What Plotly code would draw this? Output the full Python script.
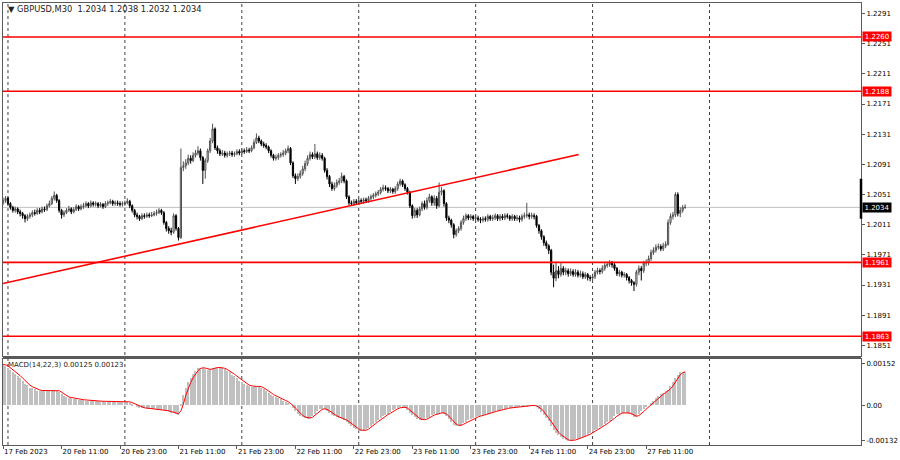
import plotly.graph_objects as go
from plotly.subplots import make_subplots

# ---------------- data (GBPUSD M30, one entry per bar) ----------------
opens = [1.2040,
1.2043,1.2046,1.2039,1.2034,1.2030,1.2032,1.2028,1.2026,1.2023,1.2019,
1.2022,1.2024,1.2027,1.2026,1.2030,1.2028,1.2032,1.2031,1.2036,1.2039,
1.2046,1.2050,1.2043,1.2030,1.2024,1.2027,1.2030,1.2032,1.2028,1.2031,
1.2035,1.2032,1.2035,1.2036,1.2039,1.2036,1.2040,1.2038,1.2039,1.2036,
1.2038,1.2035,1.2039,1.2040,1.2042,1.2039,1.2040,1.2039,1.2038,1.2039,
1.2040,1.2042,1.2036,1.2030,1.2024,1.2022,1.2019,1.2023,1.2022,1.2024,
1.2023,1.2024,1.2026,1.2027,1.2030,1.2027,1.2014,1.2006,1.2003,1.2001,
1.2023,1.2006,1.1994,1.2087,1.2089,1.2093,1.2099,1.2096,1.2103,1.2106,
1.2109,1.2100,1.2083,1.2096,1.2109,1.2122,1.2138,1.2113,1.2109,1.2105,
1.2106,1.2103,1.2105,1.2106,1.2104,1.2105,1.2108,1.2106,1.2109,1.2108,
1.2110,1.2109,1.2113,1.2120,1.2126,1.2122,1.2118,1.2116,1.2114,1.2109,
1.2103,1.2099,1.2100,1.2103,1.2104,1.2106,1.2109,1.2112,1.2093,1.2076,
1.2072,1.2075,1.2079,1.2085,1.2092,1.2099,1.2104,1.2101,1.2105,1.2100,
1.2103,1.2099,1.2083,1.2075,1.2065,1.2059,1.2063,1.2067,1.2069,1.2075,
1.2069,1.2048,1.2040,1.2039,1.2042,1.2040,1.2043,1.2042,1.2044,1.2043,
1.2046,1.2048,1.2050,1.2052,1.2054,1.2058,1.2060,1.2059,1.2056,1.2058,
1.2055,1.2059,1.2065,1.2069,1.2064,1.2059,1.2054,1.2036,1.2023,1.2030,
1.2024,1.2032,1.2039,1.2034,1.2043,1.2048,1.2040,1.2046,1.2036,1.2054,
1.2056,1.2039,1.2020,1.2017,1.2011,1.1998,1.2003,1.2006,1.2014,1.2019,
1.2023,1.2020,1.2022,1.2019,1.2020,1.2018,1.2017,1.2019,1.2018,1.2022,
1.2019,1.2020,1.2023,1.2019,1.2022,1.2020,1.2023,1.2022,1.2019,1.2022,
1.2019,1.2020,1.2018,1.2022,1.2023,1.2024,1.2022,1.2023,1.2022,1.2010,
1.2003,1.1995,1.1987,1.1983,1.1977,1.1948,1.1940,1.1950,1.1945,1.1953,
1.1948,1.1950,1.1946,1.1949,1.1945,1.1948,1.1944,1.1946,1.1942,1.1945,
1.1941,1.1940,1.1942,1.1948,1.1950,1.1949,1.1953,1.1957,1.1958,1.1960,
1.1958,1.1953,1.1946,1.1948,1.1944,1.1945,1.1941,1.1937,1.1934,1.1932,
1.1948,1.1953,1.1950,1.1960,1.1961,1.1966,1.1974,1.1977,1.1981,1.1982,
1.1979,1.1983,1.1985,1.2014,1.2022,1.2024,1.2051,1.2026,1.2030,1.2034]

highs = [
1.2047,1.2049,1.2048,1.2041,1.2036,1.2035,1.2034,1.2031,1.2028,1.2025,
1.2025,1.2027,1.2030,1.2031,1.2033,1.2033,1.2035,1.2035,1.2039,1.2043,
1.2049,1.2055,1.2052,1.2045,1.2032,1.2030,1.2033,1.2036,1.2034,1.2034,
1.2038,1.2037,1.2038,1.2040,1.2042,1.2041,1.2043,1.2042,1.2042,1.2041,
1.2041,1.2040,1.2042,1.2043,1.2045,1.2044,1.2043,1.2043,1.2042,1.2042,
1.2043,1.2046,1.2044,1.2038,1.2032,1.2027,1.2024,1.2026,1.2026,1.2027,
1.2027,1.2028,1.2029,1.2031,1.2033,1.2032,1.2029,1.2016,1.2009,1.2007,
1.2026,1.2025,1.2008,1.2112,1.2095,1.2098,1.2104,1.2103,1.2107,1.2110,
1.2115,1.2112,1.2102,1.2099,1.2112,1.2126,1.2145,1.2140,1.2116,1.2112,
1.2110,1.2109,1.2108,1.2109,1.2109,1.2108,1.2111,1.2111,1.2112,1.2112,
1.2114,1.2113,1.2116,1.2124,1.2132,1.2129,1.2124,1.2121,1.2119,1.2116,
1.2111,1.2105,1.2104,1.2106,1.2107,1.2110,1.2112,1.2116,1.2114,1.2095,
1.2079,1.2079,1.2083,1.2089,1.2096,1.2103,1.2108,1.2107,1.2118,1.2108,
1.2107,1.2106,1.2101,1.2086,1.2077,1.2068,1.2067,1.2071,1.2073,1.2080,
1.2077,1.2071,1.2050,1.2043,1.2045,1.2045,1.2046,1.2046,1.2047,1.2047,
1.2049,1.2051,1.2053,1.2055,1.2057,1.2061,1.2064,1.2063,1.2061,1.2061,
1.2060,1.2062,1.2068,1.2072,1.2071,1.2066,1.2061,1.2056,1.2038,1.2033,
1.2033,1.2035,1.2042,1.2043,1.2047,1.2052,1.2050,1.2050,1.2049,1.2067,
1.2061,1.2058,1.2041,1.2023,1.2019,1.2013,1.2006,1.2009,1.2017,1.2023,
1.2026,1.2025,1.2025,1.2024,1.2024,1.2023,1.2021,1.2022,1.2022,1.2025,
1.2024,1.2024,1.2026,1.2025,1.2025,1.2025,1.2026,1.2026,1.2024,1.2025,
1.2024,1.2024,1.2023,1.2025,1.2027,1.2040,1.2027,1.2027,1.2026,1.2024,
1.2012,1.2005,1.1997,1.1990,1.1985,1.1979,1.1958,1.1962,1.1956,1.1960,
1.1956,1.1954,1.1953,1.1953,1.1952,1.1952,1.1951,1.1950,1.1949,1.1948,
1.1947,1.1944,1.1946,1.1951,1.1954,1.1953,1.1957,1.1960,1.1962,1.1964,
1.1963,1.1960,1.1955,1.1951,1.1950,1.1948,1.1947,1.1943,1.1939,1.1936,
1.1951,1.1957,1.1956,1.1963,1.1965,1.1970,1.1978,1.1981,1.1985,1.1986,
1.1985,1.1987,1.1989,1.2018,1.2026,1.2028,1.2054,1.2054,1.2034,1.2037,
1.2038]

lows = [
1.2037,1.2040,1.2036,1.2031,1.2027,1.2027,1.2025,1.2022,1.2019,1.2014,
1.2016,1.2019,1.2021,1.2023,1.2024,1.2025,1.2026,1.2028,1.2029,1.2034,
1.2037,1.2043,1.2040,1.2027,1.2019,1.2021,1.2025,1.2028,1.2025,1.2026,
1.2029,1.2029,1.2030,1.2032,1.2034,1.2033,1.2034,1.2035,1.2035,1.2033,
1.2034,1.2032,1.2033,1.2036,1.2038,1.2036,1.2036,1.2036,1.2035,1.2035,
1.2036,1.2038,1.2033,1.2027,1.2021,1.2018,1.2016,1.2017,1.2019,1.2020,
1.2020,1.2021,1.2022,1.2023,1.2025,1.2024,1.2011,1.2002,1.1999,1.1997,
1.1999,1.2003,1.1990,1.1992,1.2082,1.2085,1.2090,1.2092,1.2094,1.2100,
1.2103,1.2096,1.2065,1.2072,1.2093,1.2106,1.2119,1.2110,1.2105,1.2102,
1.2102,1.2100,1.2100,1.2102,1.2101,1.2101,1.2103,1.2103,1.2104,1.2105,
1.2106,1.2106,1.2107,1.2111,1.2118,1.2119,1.2115,1.2113,1.2111,1.2106,
1.2100,1.2096,1.2096,1.2097,1.2100,1.2101,1.2103,1.2106,1.2090,1.2073,
1.2065,1.2069,1.2072,1.2076,1.2082,1.2089,1.2096,1.2098,1.2098,1.2097,
1.2097,1.2096,1.2080,1.2071,1.2061,1.2056,1.2056,1.2060,1.2064,1.2066,
1.2066,1.2045,1.2037,1.2036,1.2036,1.2037,1.2037,1.2039,1.2039,1.2040,
1.2040,1.2043,1.2045,1.2047,1.2049,1.2051,1.2055,1.2056,1.2053,1.2053,
1.2052,1.2052,1.2056,1.2062,1.2061,1.2056,1.2051,1.2033,1.2019,1.2020,
1.2020,1.2022,1.2029,1.2031,1.2031,1.2040,1.2036,1.2036,1.2032,1.2034,
1.2050,1.2035,1.2016,1.2013,1.2007,1.1993,1.1995,1.2000,1.2003,1.2011,
1.2016,1.2017,1.2017,1.2016,1.2016,1.2015,1.2013,1.2014,1.2015,1.2015,
1.2016,1.2016,1.2017,1.2016,1.2016,1.2017,1.2017,1.2019,1.2016,1.2016,
1.2016,1.2016,1.2014,1.2015,1.2019,1.2020,1.2018,1.2019,1.2018,1.2007,
1.1999,1.1991,1.1983,1.1979,1.1972,1.1944,1.1928,1.1936,1.1940,1.1942,
1.1944,1.1944,1.1942,1.1943,1.1942,1.1942,1.1941,1.1941,1.1939,1.1939,
1.1937,1.1936,1.1937,1.1939,1.1945,1.1945,1.1946,1.1950,1.1954,1.1955,
1.1954,1.1950,1.1943,1.1942,1.1941,1.1941,1.1937,1.1933,1.1930,1.1923,
1.1929,1.1944,1.1937,1.1947,1.1956,1.1957,1.1963,1.1971,1.1974,1.1978,
1.1976,1.1976,1.1980,1.1983,1.2011,1.2018,1.2021,1.2022,1.2021,1.2027,
1.2032]

closes = [
1.2043,1.2046,1.2039,1.2034,1.2030,1.2032,1.2028,1.2026,1.2023,1.2019,
1.2022,1.2024,1.2027,1.2026,1.2030,1.2028,1.2032,1.2031,1.2036,1.2039,
1.2046,1.2050,1.2043,1.2030,1.2024,1.2027,1.2030,1.2032,1.2028,1.2031,
1.2035,1.2032,1.2035,1.2036,1.2039,1.2036,1.2040,1.2038,1.2039,1.2036,
1.2038,1.2035,1.2039,1.2040,1.2042,1.2039,1.2040,1.2039,1.2038,1.2039,
1.2040,1.2042,1.2036,1.2030,1.2024,1.2022,1.2019,1.2023,1.2022,1.2024,
1.2023,1.2024,1.2026,1.2027,1.2030,1.2027,1.2014,1.2006,1.2003,1.2001,
1.2023,1.2006,1.1994,1.2087,1.2089,1.2093,1.2099,1.2096,1.2103,1.2106,
1.2109,1.2100,1.2083,1.2096,1.2109,1.2122,1.2138,1.2113,1.2109,1.2105,
1.2106,1.2103,1.2105,1.2106,1.2104,1.2105,1.2108,1.2106,1.2109,1.2108,
1.2110,1.2109,1.2113,1.2120,1.2126,1.2122,1.2118,1.2116,1.2114,1.2109,
1.2103,1.2099,1.2100,1.2103,1.2104,1.2106,1.2109,1.2112,1.2093,1.2076,
1.2072,1.2075,1.2079,1.2085,1.2092,1.2099,1.2104,1.2101,1.2105,1.2100,
1.2103,1.2099,1.2083,1.2075,1.2065,1.2059,1.2063,1.2067,1.2069,1.2075,
1.2069,1.2048,1.2040,1.2039,1.2042,1.2040,1.2043,1.2042,1.2044,1.2043,
1.2046,1.2048,1.2050,1.2052,1.2054,1.2058,1.2060,1.2059,1.2056,1.2058,
1.2055,1.2059,1.2065,1.2069,1.2064,1.2059,1.2054,1.2036,1.2023,1.2030,
1.2024,1.2032,1.2039,1.2034,1.2043,1.2048,1.2040,1.2046,1.2036,1.2054,
1.2056,1.2039,1.2020,1.2017,1.2011,1.1998,1.2003,1.2006,1.2014,1.2019,
1.2023,1.2020,1.2022,1.2019,1.2020,1.2018,1.2017,1.2019,1.2018,1.2022,
1.2019,1.2020,1.2023,1.2019,1.2022,1.2020,1.2023,1.2022,1.2019,1.2022,
1.2019,1.2020,1.2018,1.2022,1.2023,1.2024,1.2022,1.2023,1.2022,1.2010,
1.2003,1.1995,1.1987,1.1983,1.1977,1.1948,1.1940,1.1950,1.1945,1.1953,
1.1948,1.1950,1.1946,1.1949,1.1945,1.1948,1.1944,1.1946,1.1942,1.1945,
1.1941,1.1940,1.1942,1.1948,1.1950,1.1949,1.1953,1.1957,1.1958,1.1960,
1.1958,1.1953,1.1946,1.1948,1.1944,1.1945,1.1941,1.1937,1.1934,1.1932,
1.1948,1.1953,1.1950,1.1960,1.1961,1.1966,1.1974,1.1977,1.1981,1.1982,
1.1979,1.1983,1.1985,1.2014,1.2022,1.2024,1.2051,1.2026,1.2030,1.2034,
1.2034]

macd_hist = [
152e-5,146e-5,137e-5,131e-5,125e-5,118e-5,109e-5,100e-5,90e-5,81e-5,
74e-5,66e-5,63e-5,59e-5,55e-5,54e-5,54e-5,54e-5,54e-5,53e-5,
54e-5,55e-5,53e-5,50e-5,41e-5,33e-5,30e-5,28e-5,26e-5,24e-5,
22e-5,21e-5,20e-5,19e-5,18e-5,17e-5,16e-5,15e-5,15e-5,15e-5,
14e-5,14e-5,14e-5,13e-5,13e-5,13e-5,13e-5,12e-5,12e-5,12e-5,
13e-5,12e-5,10e-5,6e-5,0e-5,-6e-5,-8e-5,-10e-5,-11e-5,-12e-5,
-13e-5,-14e-5,-15e-5,-16e-5,-17e-5,-17e-5,-18e-5,-21e-5,-24e-5,-27e-5,
-28e-5,-31e-5,-37e-5,7e-5,37e-5,63e-5,85e-5,101e-5,116e-5,127e-5,
137e-5,140e-5,137e-5,133e-5,131e-5,133e-5,138e-5,140e-5,140e-5,138e-5,
137e-5,133e-5,127e-5,122e-5,114e-5,107e-5,100e-5,92e-5,85e-5,79e-5,
74e-5,70e-5,68e-5,68e-5,70e-5,68e-5,65e-5,59e-5,54e-5,46e-5,
39e-5,33e-5,30e-5,26e-5,22e-5,17e-5,13e-5,9e-5,0e-5,-11e-5,
-22e-5,-31e-5,-39e-5,-44e-5,-48e-5,-49e-5,-46e-5,-39e-5,-30e-5,-20e-5,
-15e-5,-12e-5,-15e-5,-20e-5,-28e-5,-35e-5,-41e-5,-44e-5,-48e-5,-50e-5,
-54e-5,-61e-5,-68e-5,-76e-5,-83e-5,-89e-5,-93e-5,-96e-5,-94e-5,-89e-5,
-83e-5,-76e-5,-68e-5,-61e-5,-54e-5,-47e-5,-41e-5,-35e-5,-30e-5,-24e-5,
-18e-5,-14e-5,-10e-5,-7e-5,-6e-5,-10e-5,-18e-5,-28e-5,-37e-5,-44e-5,
-50e-5,-54e-5,-55e-5,-54e-5,-48e-5,-42e-5,-37e-5,-33e-5,-31e-5,-29e-5,
-28e-5,-31e-5,-41e-5,-52e-5,-63e-5,-72e-5,-76e-5,-76e-5,-72e-5,-66e-5,
-61e-5,-55e-5,-52e-5,-48e-5,-44e-5,-41e-5,-38e-5,-35e-5,-33e-5,-30e-5,
-28e-5,-25e-5,-22e-5,-20e-5,-17e-5,-15e-5,-13e-5,-11e-5,-10e-5,-8e-5,
-8e-5,-7e-5,-6e-5,-5e-5,-4e-5,-3e-5,-1e-5,-1e-5,-1e-5,-6e-5,
-13e-5,-24e-5,-35e-5,-46e-5,-57e-5,-76e-5,-90e-5,-101e-5,-109e-5,-116e-5,
-124e-5,-129e-5,-132e-5,-131e-5,-129e-5,-126e-5,-123e-5,-119e-5,-115e-5,-112e-5,
-108e-5,-103e-5,-97e-5,-91e-5,-86e-5,-80e-5,-75e-5,-69e-5,-63e-5,-56e-5,
-49e-5,-41e-5,-33e-5,-30e-5,-28e-5,-28e-5,-29e-5,-31e-5,-37e-5,-42e-5,
-43e-5,-33e-5,-22e-5,-15e-5,-7e-5,0e-5,9e-5,18e-5,28e-5,33e-5,
41e-5,46e-5,52e-5,57e-5,70e-5,85e-5,100e-5,114e-5,122e-5,125e-5,
125e-5]

macd_signal = [
150e-5,149e-5,145e-5,138e-5,131e-5,125e-5,117e-5,109e-5,100e-5,90e-5,
82e-5,74e-5,68e-5,63e-5,59e-5,56e-5,54e-5,54e-5,54e-5,54e-5,
54e-5,54e-5,54e-5,53e-5,48e-5,41e-5,35e-5,30e-5,28e-5,26e-5,
24e-5,22e-5,21e-5,20e-5,19e-5,18e-5,17e-5,16e-5,15e-5,15e-5,
15e-5,14e-5,14e-5,14e-5,13e-5,13e-5,13e-5,13e-5,12e-5,12e-5,
12e-5,12e-5,12e-5,9e-5,5e-5,0e-5,-5e-5,-8e-5,-10e-5,-11e-5,
-12e-5,-13e-5,-14e-5,-15e-5,-16e-5,-17e-5,-17e-5,-19e-5,-21e-5,-24e-5,
-26e-5,-29e-5,-32e-5,-21e-5,3e-5,36e-5,62e-5,83e-5,101e-5,115e-5,
127e-5,135e-5,138e-5,137e-5,134e-5,132e-5,134e-5,137e-5,139e-5,139e-5,
138e-5,136e-5,132e-5,127e-5,121e-5,114e-5,107e-5,100e-5,92e-5,85e-5,
79e-5,74e-5,71e-5,69e-5,69e-5,69e-5,68e-5,64e-5,59e-5,53e-5,
46e-5,39e-5,34e-5,30e-5,26e-5,22e-5,17e-5,13e-5,7e-5,-1e-5,
-11e-5,-21e-5,-31e-5,-38e-5,-44e-5,-47e-5,-48e-5,-45e-5,-38e-5,-30e-5,
-22e-5,-16e-5,-14e-5,-16e-5,-21e-5,-28e-5,-35e-5,-40e-5,-44e-5,-47e-5,
-51e-5,-55e-5,-61e-5,-68e-5,-76e-5,-83e-5,-88e-5,-93e-5,-94e-5,-93e-5,
-89e-5,-83e-5,-76e-5,-68e-5,-61e-5,-54e-5,-47e-5,-41e-5,-35e-5,-30e-5,
-24e-5,-19e-5,-14e-5,-10e-5,-8e-5,-8e-5,-11e-5,-19e-5,-28e-5,-36e-5,
-44e-5,-49e-5,-53e-5,-54e-5,-52e-5,-48e-5,-42e-5,-37e-5,-34e-5,-31e-5,
-29e-5,-29e-5,-33e-5,-41e-5,-52e-5,-62e-5,-70e-5,-75e-5,-75e-5,-71e-5,
-66e-5,-61e-5,-56e-5,-52e-5,-48e-5,-44e-5,-41e-5,-38e-5,-35e-5,-33e-5,
-30e-5,-28e-5,-25e-5,-22e-5,-20e-5,-17e-5,-15e-5,-13e-5,-11e-5,-10e-5,
-9e-5,-8e-5,-7e-5,-6e-5,-5e-5,-4e-5,-3e-5,-2e-5,-1e-5,-3e-5,
-7e-5,-14e-5,-24e-5,-35e-5,-46e-5,-60e-5,-74e-5,-89e-5,-100e-5,-109e-5,
-116e-5,-123e-5,-128e-5,-131e-5,-131e-5,-129e-5,-126e-5,-123e-5,-119e-5,-115e-5,
-112e-5,-108e-5,-103e-5,-97e-5,-91e-5,-86e-5,-80e-5,-75e-5,-69e-5,-63e-5,
-56e-5,-49e-5,-41e-5,-35e-5,-30e-5,-29e-5,-28e-5,-29e-5,-32e-5,-37e-5,
-41e-5,-39e-5,-33e-5,-24e-5,-15e-5,-7e-5,1e-5,9e-5,18e-5,26e-5,
34e-5,40e-5,46e-5,52e-5,60e-5,71e-5,85e-5,100e-5,112e-5,120e-5,
123e-5]

levels = [1.2260, 1.2188, 1.1961, 1.1863]          # red support/resistance
current_price = 1.2034
trend_bars = [0, 236.3]                               # trend line anchors
trend_prices = [1.1933, 1.2104]
range_marker = [1.2019, 1.2072]                       # black marker on price scale

grid_bars = [2, 50, 98, 146, 194, 242, 290]
tick_bars = [0, 24, 48, 72, 96, 120, 144, 168, 192, 216, 240, 264]
time_labels = ["17 Feb 2023", "20 Feb 11:00", "20 Feb 23:00", "21 Feb 11:00",
               "21 Feb 23:00", "22 Feb 11:00", "22 Feb 23:00", "23 Feb 11:00",
               "23 Feb 23:00", "24 Feb 11:00", "24 Feb 23:00", "27 Feb 11:00"]
price_ticks = [1.2291, 1.2251, 1.2211, 1.2171, 1.2131, 1.2091, 1.2051,
               1.2011, 1.1971, 1.1931, 1.1891, 1.1851]
macd_ticks = [0.00152, 0.0, -0.00132]
macd_tick_text = ["0.00152", "0.00", "-0.00132"]

bars = list(range(len(closes)))

FONT = "DejaVu Sans"
FS = 7
FRAME = "#5a5a5a"

fig = make_subplots(rows=2, cols=1, shared_xaxes=True, vertical_spacing=0.0)

fig.add_trace(go.Candlestick(
    x=bars, open=opens, high=highs, low=lows, close=closes,
    increasing=dict(line=dict(color="#505050", width=1), fillcolor="#FFFFFF"),
    decreasing=dict(line=dict(color="#000000", width=1), fillcolor="#000000"),
    whiskerwidth=0, showlegend=False, hoverinfo="skip"), row=1, col=1)

fig.add_trace(go.Scatter(x=trend_bars, y=trend_prices, mode="lines",
                         line=dict(color="#FF0000", width=1.6),
                         showlegend=False, hoverinfo="skip"), row=1, col=1)

fig.add_trace(go.Bar(x=bars, y=macd_hist, width=0.45,
                     marker=dict(color="#C0C0C0", line=dict(width=0)),
                     showlegend=False, hoverinfo="skip"), row=2, col=1)
fig.add_trace(go.Scatter(x=bars, y=macd_signal, mode="lines",
                         line=dict(color="#FF0000", width=1),
                         showlegend=False, hoverinfo="skip"), row=2, col=1)

x_range = [-0.04, 352.2]
main_dom = [0.2009, 1.0]
macd_dom = [0.0, 0.1953]

axis_common = dict(showgrid=False, zeroline=False, showline=True, mirror=True,
                   linecolor=FRAME, linewidth=1)

fig.update_layout(
    width=900, height=460,
    margin=dict(l=2, r=35, t=2, b=15),
    paper_bgcolor="white", plot_bgcolor="white",
    showlegend=False, bargap=0,
    font=dict(family=FONT, size=FS, color="#000000"),
    xaxis=dict(domain=[0, 1], range=x_range, showticklabels=False, ticks="",
               rangeslider=dict(visible=False), **axis_common),
    xaxis2=dict(domain=[0, 1], range=x_range, tickvals=tick_bars, ticktext=time_labels,
                ticklabelposition="outside right", ticks="outside", ticklen=3,
                tickcolor=FRAME, tickfont=dict(family=FONT, size=FS, color="#000"),
                rangeslider=dict(visible=False), **axis_common),
    yaxis=dict(domain=main_dom, range=[1.18366, 1.23050], side="right",
               tickvals=price_ticks, ticktext=[f"{v:.4f}" for v in price_ticks],
               ticks="outside", ticklen=3, tickcolor=FRAME,
               tickfont=dict(family=FONT, size=FS, color="#000"), **axis_common),
    yaxis2=dict(domain=macd_dom, range=[-0.001476, 0.001716], side="right",
                tickvals=macd_ticks, ticktext=macd_tick_text,
                ticks="outside", ticklen=3, tickcolor=FRAME,
                tickfont=dict(family=FONT, size=FS, color="#000"), **axis_common),
)

# vertical dotted grid across both panes
for g in grid_bars:
    fig.add_shape(type="line", xref="x", yref="paper", x0=g, x1=g, y0=0, y1=1,
                  line=dict(color="#404040", width=1, dash="dot"), layer="below")

# separator band between panes
fig.add_shape(type="rect", xref="paper", yref="paper", x0=0, x1=1,
              y0=macd_dom[1], y1=main_dom[0], fillcolor=FRAME, line=dict(width=0))

# current price line
fig.add_shape(type="line", xref="x domain", yref="y", x0=0, x1=1,
              y0=current_price, y1=current_price,
              line=dict(color="#C0C0C0", width=1), layer="below")

# horizontal levels
for lv in levels:
    fig.add_shape(type="line", xref="x domain", yref="y", x0=0, x1=1, y0=lv, y1=lv,
                  line=dict(color="#FF0000", width=1.6))
    fig.add_annotation(x=1, xref="paper", xanchor="left", xshift=1, y=lv, yref="y",
                       text=f"{lv:.4f}", showarrow=False, bgcolor="#FF0000",
                       width=28, height=9, align="center", borderpad=0,
                       font=dict(family=FONT, size=FS, color="white"))

fig.add_annotation(x=1, xref="paper", xanchor="left", xshift=1, y=current_price, yref="y",
                   text=f"{current_price:.4f}", showarrow=False, bgcolor="#000000",
                   width=28, height=9, align="center", borderpad=0,
                   font=dict(family=FONT, size=FS, color="white"))

# marker on the price scale
fig.add_shape(type="line", xref="paper", yref="y", x0=1, x1=1,
              y0=range_marker[0], y1=range_marker[1], line=dict(color="#000", width=2.5))

# header texts
fig.add_annotation(x=0.003, xref="paper", xanchor="left", y=0.9865, yref="paper",
                   yanchor="middle", showarrow=False,
                   text=(f"▼ GBPUSD,M30\u00a0 {opens[-1]:.4f} {highs[-1]:.4f} "
                         f"{lows[-1]:.4f} {closes[-1]:.4f}"),
                   font=dict(family=FONT, size=8.3, color="#222"))
fig.add_annotation(x=0.003, xref="paper", xanchor="left", y=0.1806, yref="paper",
                   yanchor="middle", showarrow=False,
                   text=f"MACD(14,22,3) {macd_hist[-1]:.5f} {macd_signal[-1]:.5f}",
                   font=dict(family=FONT, size=FS, color="#222"))

# page body without default browser margin so the 900x460 figure fills the window
fig.write_html("out.html", config={"displayModeBar": False},
               post_script="document.body.style.margin='0';")
